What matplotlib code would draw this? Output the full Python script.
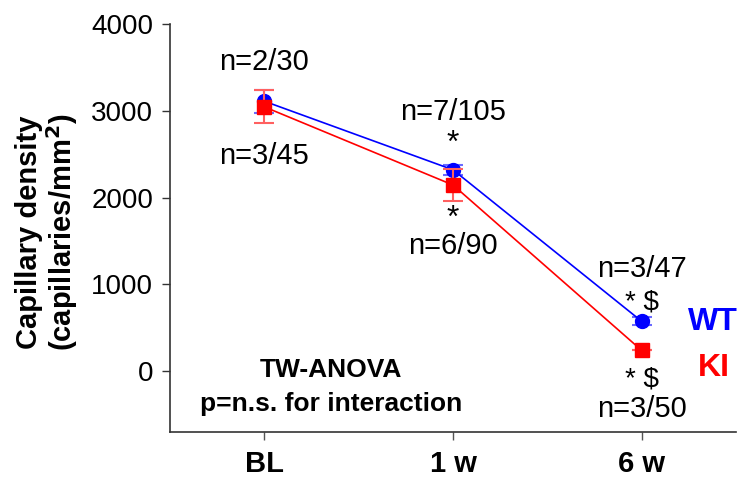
import matplotlib.pyplot as plt

plt.rcParams['font.family'] = ['Liberation Sans', 'DejaVu Sans']

groups = ['BL', '1 w', '6 w']
wt_mean = [3110, 2320, 575]
wt_err = [130, 60, 45]
ki_mean = [3045, 2145, 240]
ki_err = [190, 185, 0]

wt_n = ['n=2/30', 'n=7/105', 'n=3/47']
ki_n = ['n=3/45', 'n=6/90', 'n=3/50']
wt_sig = ['', '*', '* $']
ki_sig = ['', '*', '* $']

x = list(range(len(groups)))

fig = plt.figure(figsize=(7.37, 4.79), dpi=100)
ax = fig.add_axes([0.2307, 0.098, 0.768, 0.852])

ax.errorbar(x, wt_mean, yerr=wt_err, color='blue', lw=1.2, marker='o', ms=10,
            ecolor='#6a6aff', elinewidth=1.5, capsize=7, capthick=1.5, zorder=3)
ax.errorbar(x, ki_mean, yerr=ki_err, color='red', lw=1.2, marker='s', ms=10,
            ecolor='#ff6060', elinewidth=1.5, capsize=7, capthick=1.5, zorder=4)

ax.set_xlim(-0.5, 2.5)
ax.set_ylim(-700, 4000)
ax.set_yticks([0, 1000, 2000, 3000, 4000])
ax.set_xticks(x)
ax.set_xticklabels(groups, fontweight='bold', fontsize=21)
ax.tick_params(axis='y', labelsize=20, length=6, width=1, color='#333333', pad=6)
ax.tick_params(axis='x', length=6, width=1, color='#555555', pad=7)
for s in ['top', 'right']:
    ax.spines[s].set_visible(False)
for s in ['left', 'bottom']:
    ax.spines[s].set_color('#333333')
    ax.spines[s].set_linewidth(1.2)

fs = 21
# n labels and significance marks
ax.text(0, 3560, wt_n[0], ha='center', va='center', fontsize=fs)
ax.text(0, 2480, ki_n[0], ha='center', va='center', fontsize=fs)
ax.text(1, 2990, wt_n[1], ha='center', va='center', fontsize=fs)
ax.text(1, 2620, wt_sig[1], ha='center', va='center', fontsize=fs + 2)
ax.text(1, 1750, ki_sig[1], ha='center', va='center', fontsize=fs + 2)
ax.text(1, 1440, ki_n[1], ha='center', va='center', fontsize=fs)
ax.text(2, 1180, wt_n[2], ha='center', va='center', fontsize=fs)
ax.text(2, 790, wt_sig[2], ha='center', va='center', fontsize=fs - 1)
ax.text(2, -90, ki_sig[2], ha='center', va='center', fontsize=fs - 1)
ax.text(2, -440, ki_n[2], ha='center', va='center', fontsize=fs)

ax.text(2.38, 570, 'WT', color='blue', fontweight='bold', fontsize=23,
        ha='center', va='center')
ax.text(2.38, 40, 'KI', color='red', fontweight='bold', fontsize=23,
        ha='center', va='center')

ax.text(0.355, 15, 'TW-ANOVA', fontweight='bold', fontsize=19,
        ha='center', va='center')
ax.text(0.355, -375, 'p=n.s. for interaction', fontweight='bold', fontsize=19,
        ha='center', va='center')

fig.text(0.040, 0.515, 'Capillary density', rotation=90, fontweight='bold',
         fontsize=21, ha='center', va='center')
fig.text(0.084, 0.515, '(capillaries/mm$^\\mathbf{2}$)', rotation=90,
         fontweight='bold', fontsize=21, ha='center', va='center')

fig.savefig('out.png', dpi=100)
